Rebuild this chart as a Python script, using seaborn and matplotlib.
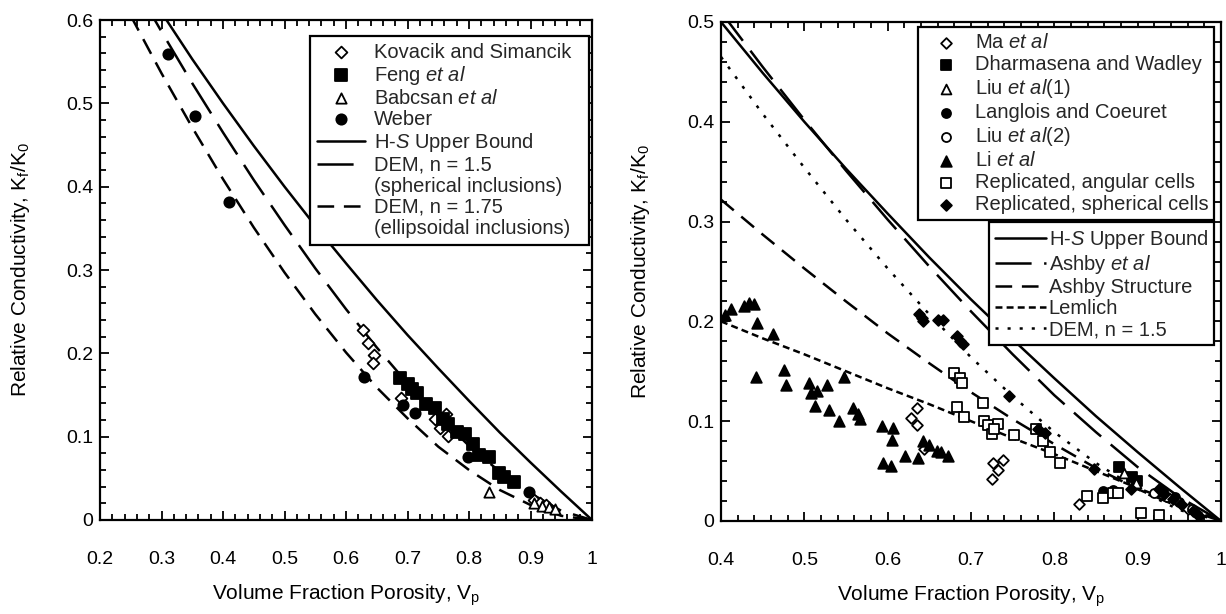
import matplotlib
matplotlib.use("Agg")
import matplotlib.pyplot as plt
from matplotlib.lines import Line2D
from matplotlib.ticker import FixedLocator, MultipleLocator
import seaborn as sns

sns.set_theme(style="ticks")
plt.rcParams["font.family"] = ["Liberation Sans", "DejaVu Sans"]
plt.rcParams["mathtext.fontset"] = "custom"
plt.rcParams["mathtext.rm"] = "Liberation Sans"
plt.rcParams["mathtext.it"] = "Liberation Sans:italic"
plt.rcParams["lines.scale_dashes"] = False

# ---------------- left panel: measured data ----------------
kovacik_x = [0.628, 0.636, 0.646, 0.644, 0.690, 0.744, 0.763, 0.752, 0.766, 0.905, 0.915, 0.925]
kovacik_y = [0.228, 0.212, 0.198, 0.188, 0.146, 0.121, 0.127, 0.111, 0.101, 0.024, 0.020, 0.018]
feng_x = [0.688, 0.700, 0.708, 0.716, 0.730, 0.744, 0.757, 0.766, 0.780, 0.793, 0.807, 0.817,
          0.832, 0.849, 0.857, 0.873]
feng_y = [0.171, 0.163, 0.157, 0.152, 0.139, 0.135, 0.121, 0.115, 0.106, 0.103, 0.091, 0.078,
          0.075, 0.056, 0.051, 0.045]
babcsan_x = [0.832, 0.905, 0.918, 0.930, 0.940]
babcsan_y = [0.033, 0.020, 0.017, 0.016, 0.013]
weber_x = [0.310, 0.355, 0.410, 0.630, 0.692, 0.712, 0.798, 0.898]
weber_y = [0.559, 0.485, 0.382, 0.172, 0.138, 0.128, 0.075, 0.033]

# left panel: model curves
porosity_left = [0.25, 0.30, 0.35, 0.40, 0.45, 0.50, 0.55, 0.60, 0.65, 0.70, 0.75, 0.80,
                 0.85, 0.90, 0.95, 1.00]
hs_left = [0.667, 0.609, 0.553, 0.500, 0.449, 0.400, 0.353, 0.308, 0.264, 0.222, 0.182, 0.143,
           0.105, 0.069, 0.034, 0.000]
dem15_left = [0.650, 0.586, 0.524, 0.465, 0.408, 0.354, 0.302, 0.253, 0.207, 0.164, 0.125, 0.089,
              0.058, 0.032, 0.011, 0.000]
dem175_left = [0.605, 0.536, 0.471, 0.409, 0.351, 0.297, 0.247, 0.201, 0.159, 0.122, 0.088, 0.060,
               0.036, 0.018, 0.005, 0.000]

# ---------------- right panel: measured data ----------------
ma_x = [0.635, 0.628, 0.635, 0.644, 0.726, 0.733, 0.725, 0.739, 0.830, 0.960, 0.970]
ma_y = [0.113, 0.103, 0.096, 0.072, 0.058, 0.051, 0.042, 0.061, 0.017, 0.012, 0.008]
dharmasena_x = [0.878, 0.893, 0.899]
dharmasena_y = [0.054, 0.044, 0.040]
liu1_x = [0.884, 0.898]
liu1_y = [0.048, 0.038]
langlois_x = [0.858, 0.870, 0.930, 0.945]
langlois_y = [0.030, 0.031, 0.030, 0.024]
liu2_x = [0.920, 0.935, 0.950, 0.965]
liu2_y = [0.028, 0.024, 0.019, 0.012]
li_x = [0.405, 0.412, 0.428, 0.434, 0.439, 0.443, 0.442, 0.462, 0.475, 0.478, 0.506, 0.508,
        0.515, 0.527, 0.513, 0.529, 0.541, 0.547, 0.558, 0.564, 0.567, 0.593, 0.606, 0.605,
        0.594, 0.604, 0.621, 0.637, 0.643, 0.650, 0.659, 0.664, 0.673]
li_y = [0.206, 0.212, 0.215, 0.218, 0.217, 0.198, 0.144, 0.187, 0.151, 0.136, 0.138, 0.128,
        0.130, 0.136, 0.115, 0.111, 0.100, 0.144, 0.113, 0.107, 0.102, 0.095, 0.093, 0.081,
        0.058, 0.055, 0.065, 0.063, 0.080, 0.076, 0.070, 0.069, 0.065]
angular_x = [0.680, 0.687, 0.689, 0.715, 0.683, 0.692, 0.716, 0.721, 0.725, 0.733, 0.728, 0.752,
             0.778, 0.786, 0.795, 0.807, 0.839, 0.859, 0.870, 0.876, 0.904, 0.926]
angular_y = [0.148, 0.143, 0.138, 0.118, 0.114, 0.104, 0.100, 0.096, 0.087, 0.097, 0.092, 0.086,
             0.092, 0.080, 0.069, 0.058, 0.025, 0.023, 0.028, 0.028, 0.008, 0.006]
spherical_x = [0.638, 0.641, 0.643, 0.660, 0.666, 0.683, 0.687, 0.691, 0.746, 0.781, 0.789, 0.848,
               0.892, 0.926, 0.932, 0.942, 0.952, 0.966, 0.974]
spherical_y = [0.207, 0.203, 0.200, 0.201, 0.201, 0.185, 0.180, 0.177, 0.125, 0.092, 0.088, 0.052,
               0.032, 0.032, 0.027, 0.022, 0.017, 0.010, 0.005]

# right panel: model curves
porosity_right = [0.40, 0.45, 0.50, 0.55, 0.60, 0.65, 0.70, 0.75, 0.80, 0.85, 0.90, 0.95, 1.00]
hs_right = [0.500, 0.449, 0.400, 0.353, 0.308, 0.264, 0.222, 0.182, 0.143, 0.105, 0.069, 0.034, 0.000]
ashby_right = [0.510, 0.455, 0.402, 0.351, 0.302, 0.255, 0.210, 0.167, 0.126, 0.089, 0.054, 0.024, 0.000]
ashby_struct_right = [0.322, 0.287, 0.253, 0.220, 0.188, 0.158, 0.129, 0.102, 0.077, 0.053, 0.032,
                      0.014, 0.000]
lemlich_right = [0.200, 0.183, 0.167, 0.150, 0.133, 0.117, 0.100, 0.083, 0.067, 0.050, 0.033,
                 0.017, 0.000]
dem_right = [0.465, 0.408, 0.354, 0.302, 0.253, 0.207, 0.164, 0.125, 0.089, 0.058, 0.032, 0.011, 0.000]

# tick labels
left_xticks = ["0.2", "0.3", "0.4", "0.5", "0.6", "0.7", "0.8", "0.9", "1"]
left_yticks = ["0", "0.1", "0.2", "0.3", "0.4", "0.5", "0.6"]
right_xticks = ["0.4", "0.5", "0.6", "0.7", "0.8", "0.9", "1"]
right_yticks = ["0", "0.1", "0.2", "0.3", "0.4", "0.5"]

INK = "black"
LONG = (0, (26, 9))
MEDIUM = (0, (12, 7))
SHORT = (0, (5, 3))
DOTS = (0, (2.2, 6.5))


def style_axes(ax, xlim, ylim, xlabels, ylabels):
    ax.set_xlim(*xlim)
    ax.set_ylim(*ylim)
    xt = [float(v) for v in xlabels]
    yt = [float(v) for v in ylabels]
    ax.xaxis.set_major_locator(FixedLocator(xt))
    ax.yaxis.set_major_locator(FixedLocator(yt))
    ax.set_xticklabels(xlabels)
    ax.set_yticklabels(ylabels)
    ax.xaxis.set_minor_locator(MultipleLocator(0.02))
    ax.yaxis.set_minor_locator(MultipleLocator(0.02))
    ax.tick_params(which="both", direction="in", top=True, right=True, width=1.3, color=INK)
    ax.tick_params(which="major", length=6.5)
    ax.tick_params(which="minor", length=4)
    ax.tick_params(axis="x", pad=22, labelsize=14, labelcolor=INK)
    ax.tick_params(axis="y", pad=5, labelsize=14, labelcolor=INK)
    for s in ax.spines.values():
        s.set_visible(True)
        s.set_linewidth(1.6)
        s.set_color(INK)
    ax.set_facecolor("white")
    ax.set_xlabel(r"Volume Fraction Porosity, V$_\mathregular{p}$", fontsize=15, color=INK)
    ax.set_ylabel(r"Relative Conductivity, K$_\mathregular{f}$/K$_\mathregular{0}$", fontsize=15, color=INK)
    ax.xaxis.set_label_coords(0.5, -0.125)
    ax.yaxis.set_label_coords(-0.138, 0.5)


def points(ax, x, y, marker, filled, size, label):
    sns.scatterplot(x=x, y=y, ax=ax, marker=marker, s=size,
                    facecolor=INK if filled else "white", edgecolor=INK,
                    linewidth=1.3, label=label, zorder=3)


def curve(ax, x, y, ls, label):
    sns.lineplot(x=x, y=y, ax=ax, color=INK, linewidth=1.8, linestyle=ls,
                 sort=False, estimator=None, label=label, zorder=2)


def framed_legend(ax, handles, labels, anchor, size, hlen, tpad, bpad, lspace):
    leg = ax.legend(handles, labels, loc="upper right", bbox_to_anchor=anchor,
                    fontsize=size, frameon=True, fancybox=False, framealpha=1, edgecolor=INK,
                    labelspacing=lspace, handlelength=hlen, handletextpad=tpad, borderpad=bpad,
                    borderaxespad=0)
    leg.get_frame().set_linewidth(1.6)
    return leg


fig = plt.figure(figsize=(12.26, 6.14), dpi=100)
fig.patch.set_facecolor("white")
axL = fig.add_axes([0.0816, 0.1531, 0.4013, 0.8143])
axR = fig.add_axes([0.5881, 0.1515, 0.4078, 0.8127])

# ---------- left panel ----------
curve(axL, porosity_left, hs_left, "-", r"H-$\mathit{S}$ Upper Bound")
curve(axL, porosity_left, dem15_left, LONG, "DEM, n = 1.5")
curve(axL, porosity_left, dem175_left, MEDIUM, "DEM, n = 1.75")
points(axL, kovacik_x, kovacik_y, "D", False, 36, "Kovacik and Simancik")
points(axL, feng_x, feng_y, "s", True, 64, r"Feng $\mathit{et\ al}$")
points(axL, babcsan_x, babcsan_y, "^", False, 55, r"Babcsan $\mathit{et\ al}$")
points(axL, weber_x, weber_y, "o", True, 55, "Weber")
style_axes(axL, (0.2, 1.0), (0.0, 0.6), left_xticks, left_yticks)

h, l = axL.get_legend_handles_labels()
hd = dict(zip(l, h))
blank = Line2D([], [], linestyle="none", marker=None)
left_order = ["Kovacik and Simancik", r"Feng $\mathit{et\ al}$", r"Babcsan $\mathit{et\ al}$", "Weber",
              r"H-$\mathit{S}$ Upper Bound", "DEM, n = 1.5"]
handles = [hd[k] for k in left_order] + [blank, hd["DEM, n = 1.75"], blank]
# the trailing spaces keep a right-hand margin inside the frame
labels = left_order + ["(spherical inclusions)", "DEM, n = 1.75", "(ellipsoidal inclusions)  "]
framed_legend(axL, handles, labels, (0.993, 0.969), 14.5, 2.4, 0.45, 0.35, 0.1)

# ---------- right panel ----------
curve(axR, porosity_right, hs_right, "-", r"H-$\mathit{S}$ Upper Bound")
curve(axR, porosity_right, ashby_right, LONG, r"Ashby $\mathit{et\ al}$")
curve(axR, porosity_right, ashby_struct_right, MEDIUM, "Ashby Structure")
curve(axR, porosity_right, lemlich_right, SHORT, "Lemlich")
curve(axR, porosity_right, dem_right, DOTS, "DEM, n = 1.5")
points(axR, ma_x, ma_y, "D", False, 30, r"Ma $\mathit{et\ al}$")
points(axR, dharmasena_x, dharmasena_y, "s", True, 50, "Dharmasena and Wadley")
points(axR, liu1_x, liu1_y, "^", False, 50, r"Liu $\mathit{et\ al}$(1)")
points(axR, langlois_x, langlois_y, "o", True, 42, "Langlois and Coeuret")
points(axR, liu2_x, liu2_y, "o", False, 42, r"Liu $\mathit{et\ al}$(2)")
points(axR, li_x, li_y, "^", True, 58, r"Li $\mathit{et\ al}$")
points(axR, angular_x, angular_y, "s", False, 60, "Replicated, angular cells")
points(axR, spherical_x, spherical_y, "D", True, 30, "Replicated, spherical cells")
style_axes(axR, (0.4, 1.0), (0.0, 0.5), right_xticks, right_yticks)

h, l = axR.get_legend_handles_labels()
hd = dict(zip(l, h))
marker_keys = [r"Ma $\mathit{et\ al}$", "Dharmasena and Wadley", r"Liu $\mathit{et\ al}$(1)",
               "Langlois and Coeuret", r"Liu $\mathit{et\ al}$(2)", r"Li $\mathit{et\ al}$",
               "Replicated, angular cells", "Replicated, spherical cells"]
line_keys = [r"H-$\mathit{S}$ Upper Bound", r"Ashby $\mathit{et\ al}$", "Ashby Structure",
             "Lemlich", "DEM, n = 1.5"]
legR1 = framed_legend(axR, [hd[k] for k in marker_keys], marker_keys, (0.987, 0.99),
                      14.5, 2.1, 0.4, 0.3, 0.15)
axR.add_artist(legR1)
framed_legend(axR, [hd[k] for k in line_keys], line_keys, (0.987, 0.599), 14.5, 2.5, 0.15, 0.3, 0.1)

fig.savefig("out.png", dpi=100, facecolor="white")
